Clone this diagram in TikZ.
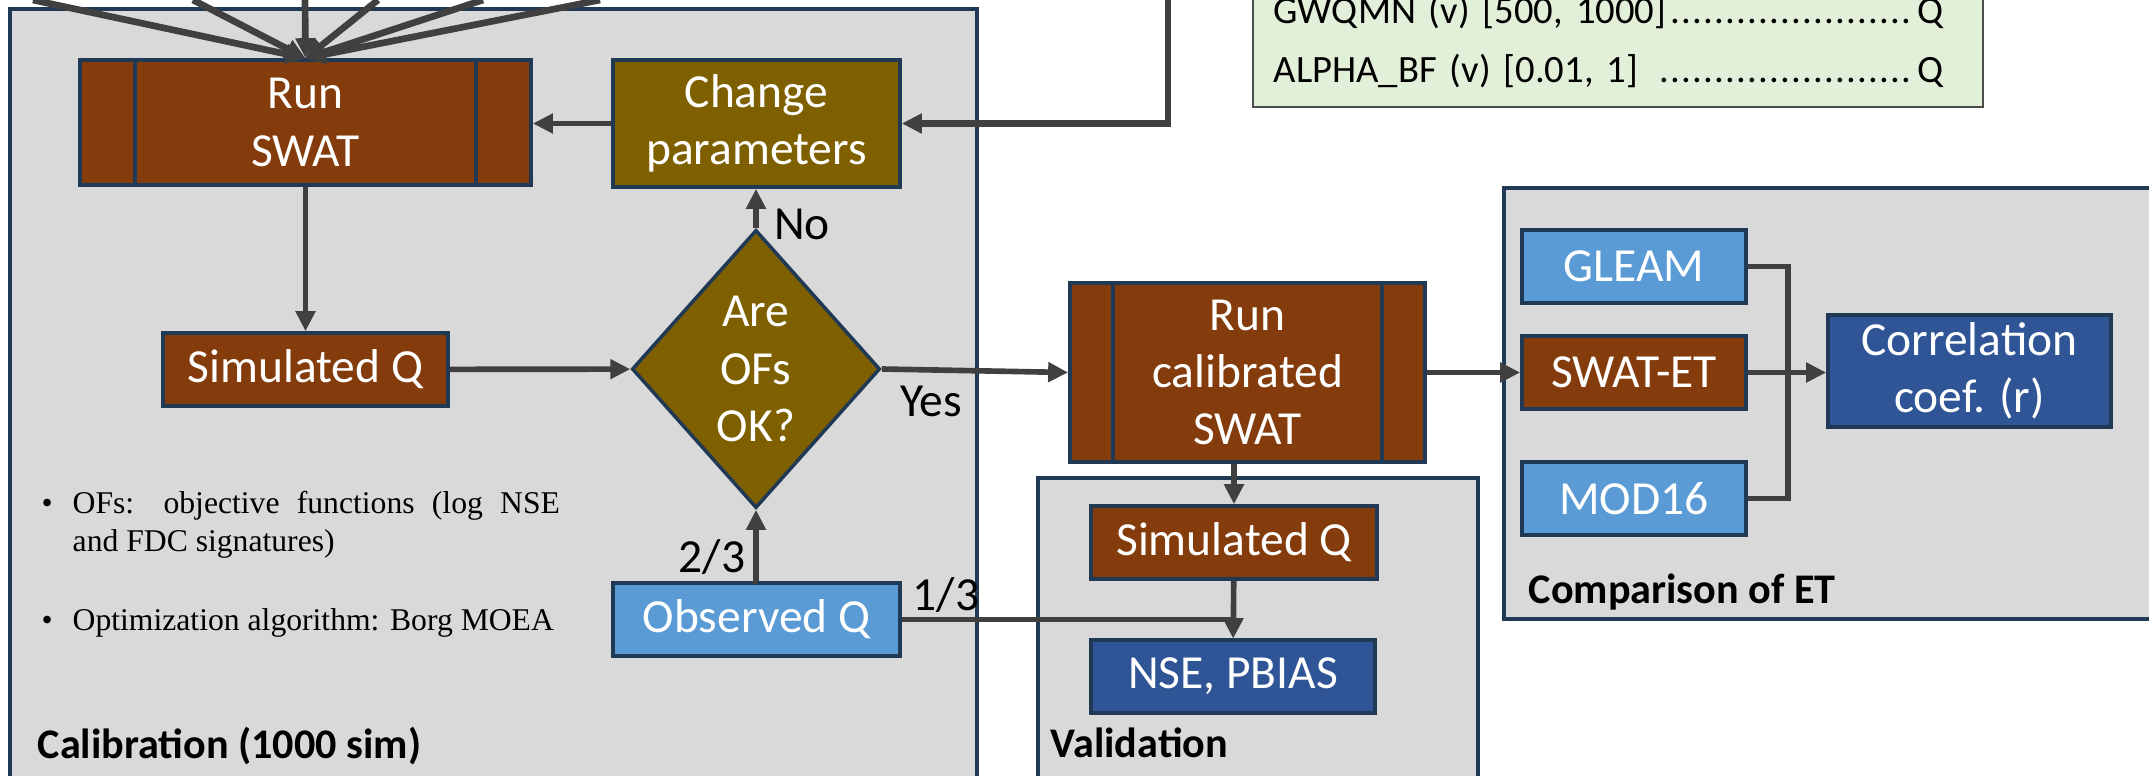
\documentclass[tikz,border=0pt]{standalone}
\usepackage{fontspec}
\setmainfont{Carlito}
\newfontfamily\timesfont{Liberation Serif}
\usetikzlibrary{arrows.meta,shapes.geometric}

\definecolor{swatbrown}{HTML}{843C0C}
\definecolor{olivebox}{HTML}{7F6000}
\definecolor{obsblue}{HTML}{5B9BD5}
\definecolor{metricblue}{HTML}{2F5597}
\definecolor{panelgray}{HTML}{D9D9D9}
\definecolor{edgeblue}{HTML}{203A56}
\definecolor{wiregray}{HTML}{404040}
\definecolor{paramgreen}{HTML}{E2F0D9}

\newcommand\leaderdots{\leaders\hbox to 0.11cm{\hss.\hss}\hfill}

\begin{document}
\begin{tikzpicture}[x=0.01cm, y=-0.01cm,
    panel/.style={fill=panelgray, draw=edgeblue, line width=0.9pt},
    procbox/.style={draw=edgeblue, line width=1pt, text=white, align=center, inner sep=0pt,
        font=\fontsize{13.5}{16.3}\selectfont},
    decision/.style={procbox, shape=diamond, fill=olivebox, aspect=0.89},
    wire/.style={draw=wiregray, line width=1.6pt, -{Triangle[length=0.2cm,width=0.19cm]}},
    lbl/.style={font=\fontsize{13.5}{16.3}\selectfont},
    paneltitle/.style={anchor=base west, inner sep=0pt, font=\fontsize{12}{14}\bfseries\selectfont},
    bullets/.style={anchor=base west, text width=5.18cm, align=justify, inner sep=0pt,
        font=\timesfont\fontsize{9}{11}\selectfont}]

\useasboundingbox (0,0) rectangle (2149,776);
\clip (0,0) rectangle (2149,776);

% panels
\draw[panel] (10,9) rectangle (977,800);
\draw[panel] (1038,478) rectangle (1478,800);
\draw[panel] (1504,188) rectangle (2170,619);
\draw[fill=paramgreen, draw=black!70, line width=0.6pt] (1253,-20) rectangle (1983,107);

\node[anchor=base west, text width=6.7cm, align=left, inner sep=0pt,
    font=\fontsize{11}{16.5}\selectfont] (params) at (1273,24)
    {GWQMN (v) [500, 1000]\leaderdots Q\\ALPHA\_BF (v) [0.01, 1] \leaderdots Q};

% calibration loop
\node[procbox, fill=swatbrown, minimum width=4.51cm, minimum height=1.25cm] (runswat) at (305.5,122.5) {Run\\SWAT};
\node[procbox, fill=olivebox, minimum width=2.87cm, minimum height=1.27cm] (change) at (756.5,123.5) {Change\\parameters};
\node[procbox, fill=swatbrown, minimum width=2.85cm, minimum height=0.73cm] (simcal) at (305.5,369.5) {Simulated Q};
\node[decision, minimum width=2.48cm, minimum height=2.78cm] (ok) at (756,369) {Are\\OFs\\OK?};
\node[procbox, fill=obsblue, minimum width=2.87cm, minimum height=0.73cm] (obs) at (756.5,619.5) {Observed Q};

% validation
\node[procbox, fill=swatbrown, minimum width=3.55cm, minimum height=1.79cm] (runcal) at (1247.5,372.5) {Run\\calibrated\\SWAT};
\node[procbox, fill=swatbrown, minimum width=2.86cm, minimum height=0.73cm] (simval) at (1234,542.5) {Simulated Q};
\node[procbox, fill=metricblue, minimum width=2.84cm, minimum height=0.73cm] (nse) at (1233,676.5) {NSE, PBIAS};

% ET comparison
\node[procbox, fill=obsblue, minimum width=2.24cm, minimum height=0.73cm] (gleam) at (1634,266.5) {GLEAM};
\node[procbox, fill=swatbrown, minimum width=2.24cm, minimum height=0.73cm] (swatet) at (1634,372.5) {SWAT-ET};
\node[procbox, fill=obsblue, minimum width=2.24cm, minimum height=0.73cm] (mod16) at (1634,498.5) {MOD16};
\node[procbox, fill=metricblue, minimum width=2.83cm, minimum height=1.12cm] (corr) at (1969.5,371) {Correlation\\coef. (r)};

\foreach \n/\d in {runswat/0.57cm, runcal/0.45cm} {
    \draw[edgeblue, line width=1pt] ([xshift=\d]\n.north west) -- ([xshift=\d]\n.south west)
        ([xshift=-\d]\n.north east) -- ([xshift=-\d]\n.south east);
}

% connectors
\foreach \x [count=\i] in {33,193,305,378,483,600} {
    \coordinate (in\i) at (\x,0);
    \draw[wire, line width=1.9pt] (in\i) -- (runswat.north);
}
\coordinate (paramline) at (1168,0);
\draw[wire, line width=1.8pt] (paramline) |- (change.east);
\draw[wire] (change.west) -- (change.west -| runswat.east);
\draw[wire] (runswat) -- (simcal);
\draw[wire] (simcal) -- (ok);
\draw[wire] (ok.north) -- (ok.north |- change.south);
\draw[wire] (obs.north) -- (obs.north -| ok.south) -- (ok.south);
\draw[wire] (ok.east) -- (runcal.west);
\draw[wire] (obs.east) -| (nse.north);
\draw[wire] (runcal.south -| simval.north) -- (simval.north);
\draw[wire] (simval) -- (nse);
\draw[wire] (runcal.east) -- (swatet.west);
\draw[wire] (swatet.east) -- (swatet.east -| corr.west);
\draw[draw=wiregray, line width=1.6pt] (gleam.east) -- ++(40,0) |- (mod16.east);

% labels
\node[lbl] (no) at (802,224) {No};
\node[lbl] (yes) at (931,401) {Yes};
\node[lbl] (twothirds) at (712,557) {2/3};
\node[lbl] (onethird) at (946,595) {1/3};

\node[bullets] (ofnote) at (41,513) {\hangindent=0.31cm\hangafter=1\noindent\makebox[0.31cm][l]{\textbullet}OFs: objective functions (log NSE\linebreak and FDC signatures)\par};
\node[bullets] (algnote) at (41,630) {\noindent\makebox[0.31cm][l]{\textbullet}Optimization algorithm: Borg MOEA\par};

\node[paneltitle] (caltitle) at (37,758) {Calibration (1000 sim)};
\node[paneltitle] (valtitle) at (1050,757) {Validation};
\node[paneltitle] (ettitle) at (1528,603) {Comparison of ET};
\end{tikzpicture}
\end{document}
